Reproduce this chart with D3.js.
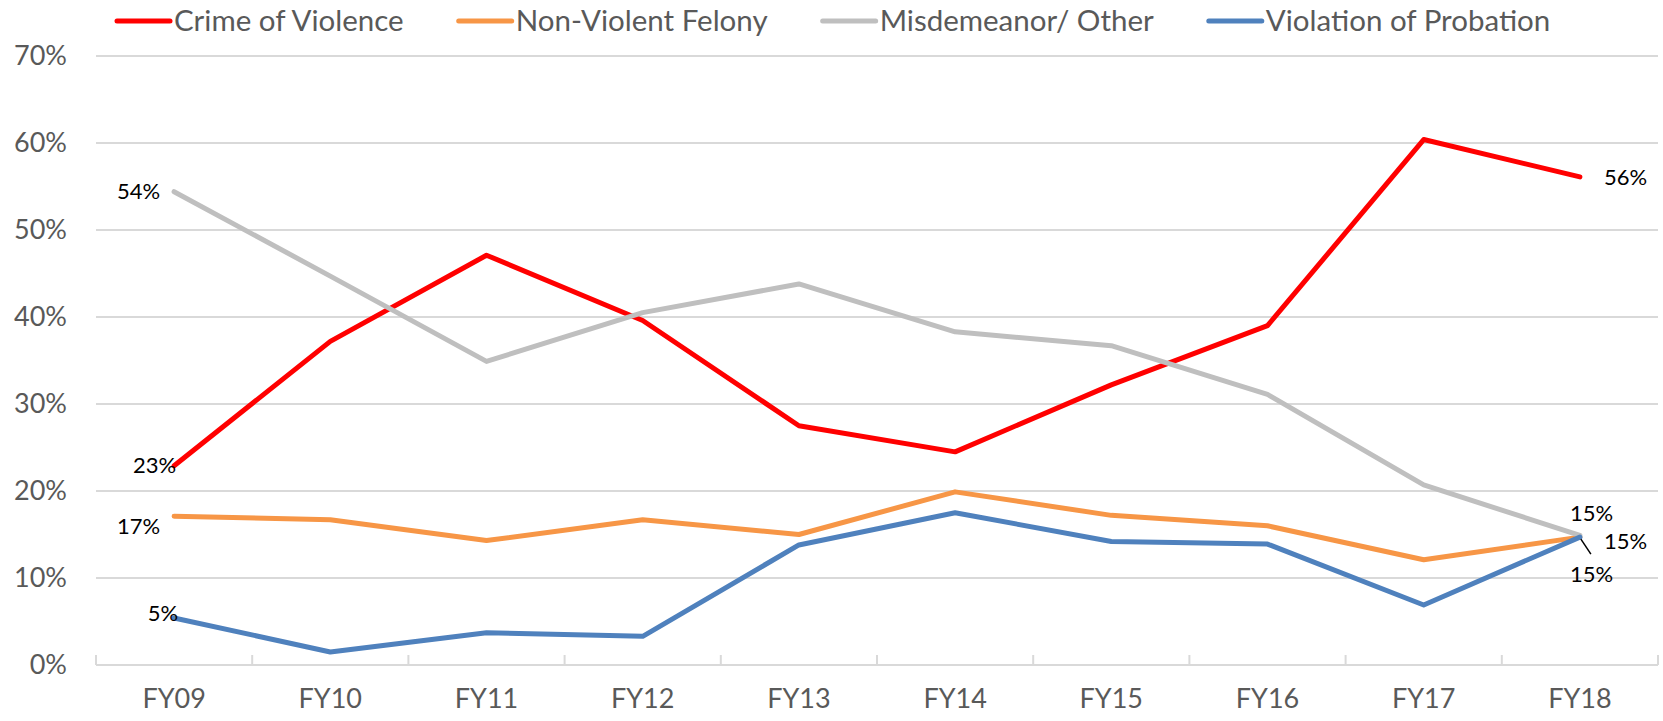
<!DOCTYPE html>
<html>
  <head>
    <meta charset="utf-8">
    <title></title>
    <script src="https://d3js.org/d3.v7.min.js"></script>
  </head>

  <style>
    body {
      margin: 0;
      background-color: white;
    }
    text {
      font-family: Lato, 'Open Sans', sans-serif;
    }
    .axis-label {
      fill: #595959;
      font-size: 27px;
    }
    .legend-label {
      fill: #595959;
      font-size: 29.5px;
    }
    .data-label {
      fill: #000;
      font-size: 22px;
    }
  </style>

  <body>
    <div id="chart"></div>
    <script>

    // Fiscal years along the x axis
    var years = ['FY09', 'FY10', 'FY11', 'FY12', 'FY13', 'FY14', 'FY15', 'FY16', 'FY17', 'FY18'];

    // Share of cases by offence type (percent)
    var crimeOfViolence = [22.9, 37.2, 47.1, 39.6, 27.5, 24.5, 32.2, 39.0, 60.4, 56.1];
    var nonViolentFelony = [17.1, 16.7, 14.3, 16.7, 15.0, 19.9, 17.2, 16.0, 12.1, 14.7];
    var misdemeanorOther = [54.4, 44.7, 34.9, 40.5, 43.8, 38.3, 36.7, 31.1, 20.7, 14.9];
    var violationProbation = [5.4, 1.5, 3.7, 3.3, 13.8, 17.5, 14.2, 13.9, 6.9, 14.7];

    var seriesNames = ['Crime of Violence', 'Non-Violent Felony', 'Misdemeanor/ Other', 'Violation of Probation'];
    var yTicks = [0, 10, 20, 30, 40, 50, 60, 70];

    var colors = ['#ff0000', '#f79646', '#bfbfbf', '#4f81bd'];

    var series = [
      { name: seriesNames[0], values: crimeOfViolence, color: colors[0] },
      { name: seriesNames[1], values: nonViolentFelony, color: colors[1] },
      { name: seriesNames[2], values: misdemeanorOther, color: colors[2] },
      { name: seriesNames[3], values: violationProbation, color: colors[3] }
    ];

    var width = 1663;
    var height = 721;
    var margin = { top: 56, right: 5, bottom: 56, left: 96 };

    var svg = d3.select('#chart').append('svg')
      .attr('width', width)
      .attr('height', height);

    var xScale = d3.scaleBand()
      .domain(years)
      .range([margin.left, width - margin.right]);

    var yScale = d3.scaleLinear()
      .domain([0, 70])
      .range([height - margin.bottom, margin.top]);

    function px(i) {
      return xScale(years[i]) + xScale.bandwidth() / 2;
    }

    // horizontal gridlines
    svg.append('g')
      .selectAll('line')
      .data(yTicks.slice(1))
      .enter().append('line')
      .attr('x1', margin.left)
      .attr('x2', width - margin.right)
      .attr('y1', function(d) { return yScale(d); })
      .attr('y2', function(d) { return yScale(d); })
      .style('stroke', '#d9d9d9')
      .style('stroke-width', 2);

    // y axis labels, no axis line
    var yAxis = d3.axisLeft(yScale)
      .tickValues(yTicks)
      .tickSize(0)
      .tickPadding(29)
      .tickFormat(function(d) { return d + '%'; });

    var yGuide = svg.append('g')
      .attr('transform', 'translate(' + margin.left + ',0)')
      .call(yAxis);
    yGuide.select('.domain').remove();
    yGuide.selectAll('text')
      .attr('class', 'axis-label')
      .attr('font-family', null)
      .attr('font-size', null);

    // x axis: line at 0% with ticks pointing up
    var xAxis = d3.axisBottom(xScale).tickSize(0).tickPadding(24);
    var xGuide = svg.append('g')
      .attr('transform', 'translate(0,' + yScale(0) + ')')
      .call(xAxis);
    xGuide.select('.domain')
      .style('stroke', '#d9d9d9')
      .style('stroke-width', 2)
      .attr('d', 'M' + margin.left + ',0H' + (width - margin.right));
    xGuide.selectAll('text')
      .attr('class', 'axis-label')
      .attr('font-family', null)
      .attr('font-size', null)
      .attr('dy', '0.71em');

    var bandEdges = years.map(function(d) { return xScale(d); }).concat([width - margin.right]);
    svg.append('g')
      .selectAll('line')
      .data(bandEdges)
      .enter().append('line')
      .attr('x1', function(d) { return d; })
      .attr('x2', function(d) { return d; })
      .attr('y1', yScale(0))
      .attr('y2', yScale(0) - 10)
      .style('stroke', '#d9d9d9')
      .style('stroke-width', 2);

    // series lines
    var line = d3.line()
      .x(function(d, i) { return px(i); })
      .y(function(d) { return yScale(d); });

    svg.append('g')
      .selectAll('path')
      .data(series)
      .enter().append('path')
      .attr('d', function(s) { return line(s.values); })
      .style('fill', 'none')
      .style('stroke', function(s) { return s.color; })
      .style('stroke-width', 5)
      .style('stroke-linejoin', 'round')
      .style('stroke-linecap', 'round');

    // data labels at first and last year
    var first = 0;
    var last = years.length - 1;
    var labelPlacement = [
      { s: 2, i: first, dx: -14, dy: 0, anchor: 'end' },
      { s: 0, i: first, dx: 2, dy: 0, anchor: 'end' },
      { s: 1, i: first, dx: -14, dy: 10, anchor: 'end' },
      { s: 3, i: first, dx: 4, dy: -5, anchor: 'end' },
      { s: 0, i: last, dx: 24, dy: 0, anchor: 'start' },
      { s: 2, i: last, dx: -10, dy: -22, anchor: 'start' },
      { s: 1, i: last, dx: 24, dy: 4, anchor: 'start' },
      { s: 3, i: last, dx: -10, dy: 37, anchor: 'start' }
    ];

    svg.append('g')
      .selectAll('text')
      .data(labelPlacement)
      .enter().append('text')
      .attr('class', 'data-label')
      .attr('x', function(d) { return px(d.i) + d.dx; })
      .attr('y', function(d) { return yScale(series[d.s].values[d.i]) + d.dy; })
      .attr('dy', '0.35em')
      .attr('text-anchor', function(d) { return d.anchor; })
      .text(function(d) { return Math.round(series[d.s].values[d.i]) + '%'; });

    // leader line for the lower FY18 label
    svg.append('line')
      .attr('x1', px(last) + 1)
      .attr('y1', yScale(violationProbation[last]) + 2)
      .attr('x2', px(last) + 11)
      .attr('y2', yScale(violationProbation[last]) + 17)
      .style('stroke', '#000')
      .style('stroke-width', 1.5);

    // legend across the top
    var legend = svg.append('g').attr('transform', 'translate(115,21)');
    var cursor = 0;
    series.forEach(function(s) {
      var item = legend.append('g').attr('transform', 'translate(' + cursor + ',0)');
      item.append('line')
        .attr('x1', 2).attr('x2', 55)
        .style('stroke', s.color)
        .style('stroke-width', 5)
        .style('stroke-linecap', 'round');
      var t = item.append('text')
        .attr('class', 'legend-label')
        .attr('x', 59)
        .attr('dy', '0.35em')
        .text(s.name);
      cursor += 59 + t.node().getComputedTextLength() + 53;
    });

    </script>
  </body>
</html>
